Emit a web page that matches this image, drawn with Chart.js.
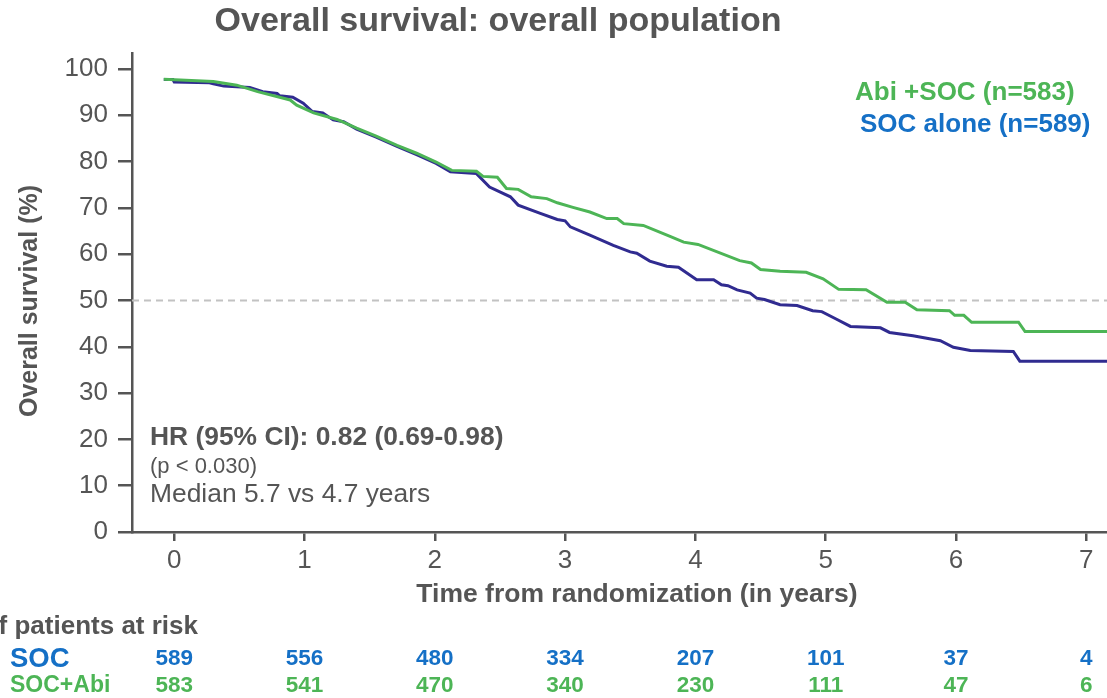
<!DOCTYPE html>
<html lang="en">
  <head>
    <meta charset="UTF-8" />
    <title>Overall survival: overall population</title>
    <script src="https://cdn.jsdelivr.net/npm/chart.js@4"></script>
    <style>
      html,
      body {
        margin: 0;
        padding: 0;
        background: #fff;
        overflow: hidden;
      }
    </style>
  </head>

  <body>
    <canvas id="km" width="1107" height="698"></canvas>

    <script>
      // Kaplan-Meier curves (time in years, survival in %)
      const abiTime = [
        -0.08, 0.3, 0.48, 0.64, 0.89, 0.94, 1.07, 1.25, 1.4, 1.55, 1.71, 1.86,
        2.01, 2.13, 2.32, 2.37, 2.48, 2.55, 2.64, 2.74, 2.86, 2.94, 3.06, 3.19,
        3.32, 3.4, 3.45, 3.6, 3.81, 3.91, 4.02, 4.34, 4.43, 4.5, 4.65, 4.85,
        4.98, 5.1, 5.31, 5.47, 5.61, 5.7, 5.95, 5.99, 6.06, 6.12, 6.48, 6.53,
        7.16,
      ];
      const abiSurv = [
        97.8, 97.3, 96.5, 95.1, 93.3, 92.2, 90.5, 89.1, 87.2, 85.5, 83.5, 81.8,
        79.9, 78.1, 77.9, 76.8, 76.6, 74.2, 74.0, 72.4, 72.0, 71.1, 70.1, 69.1,
        67.7, 67.7, 66.6, 66.2, 63.8, 62.6, 62.1, 58.6, 58.1, 56.7, 56.3, 56.1,
        54.7, 52.4, 52.3, 49.6, 49.6, 48.0, 47.8, 46.8, 46.8, 45.3, 45.3, 43.3,
        43.3,
      ];

      const socTime = [
        -0.08, -0.01, 0.0, 0.27, 0.3, 0.38, 0.58, 0.68, 0.79, 0.81, 0.91, 0.99,
        1.06, 1.14, 1.22, 1.3, 1.4, 1.55, 1.71, 1.86, 2.01, 2.12, 2.32, 2.42,
        2.58, 2.64, 2.81, 2.94, 3.0, 3.04, 3.19, 3.37, 3.5, 3.55, 3.65, 3.78,
        3.87, 4.01, 4.14, 4.2, 4.25, 4.32, 4.42, 4.47, 4.53, 4.65, 4.78, 4.9,
        4.97, 5.08, 5.19, 5.42, 5.49, 5.67, 5.88, 5.98, 6.11, 6.44, 6.49, 7.16,
      ];
      const socSurv = [
        97.7, 97.7, 97.2, 97.0, 96.8, 96.3, 96.0, 95.1, 94.7, 94.2, 93.9, 92.6,
        90.8, 90.5, 89.0, 88.6, 87.0, 85.3, 83.3, 81.5, 79.6, 77.8, 77.4, 74.5,
        72.4, 70.6, 68.8, 67.5, 67.2, 65.9, 64.1, 61.9, 60.5, 60.2, 58.5, 57.4,
        57.2, 54.5, 54.5, 53.4, 53.2, 52.3, 51.6, 50.5, 50.2, 49.1, 48.9, 47.8,
        47.6, 46.0, 44.4, 44.1, 43.1, 42.4, 41.3, 39.9, 39.2, 39.0, 36.9, 36.9,
      ];

      const medianLine = 50;
      const xTicks = [0, 1, 2, 3, 4, 5, 6, 7];
      const yTicks = [0, 10, 20, 30, 40, 50, 60, 70, 80, 90, 100];

      // patients at risk, one value per x tick
      const riskTimes = [0, 1, 2, 3, 4, 5, 6, 7];
      const riskSoc = [589, 556, 480, 334, 207, 101, 37, 4];
      const riskAbi = [583, 541, 470, 340, 230, 111, 47, 6];

      const seriesNames = ["Abi +SOC (n=583)", "SOC alone (n=589)"];
      const riskNames = ["SOC", "SOC+Abi"];

      const FONT = '"Liberation Sans", Arial, sans-serif';
      const GREY = "#555555";
      const GREEN = "#4db556";
      const NAVY = "#302b90";
      const BLUE_TXT = "#1570c6";

      const X_MIN = -0.324;
      const X_MAX = 7.159;

      const toPoints = (t, s) => t.map((v, i) => ({ x: v, y: s[i] }));

      // titles, legend text, stats box and the at-risk table
      const textPlugin = {
        id: "texts",
        afterDraw(chart) {
          const c = chart.ctx;
          const xs = chart.scales.x;
          c.save();
          c.textBaseline = "middle";

          c.fillStyle = GREY;
          c.textAlign = "center";
          c.font = "bold 34px " + FONT;
          c.fillText("Overall survival: overall population", 498, 22);

          c.font = "bold 26.5px " + FONT;
          c.fillText("Time from randomization (in years)", 637, 595);

          // y axis title, rotated
          c.save();
          c.translate(30, 301);
          c.rotate(-Math.PI / 2);
          c.font = "bold 25px " + FONT;
          c.fillText("Overall survival (%)", 0, 0);
          c.restore();

          c.textAlign = "left";
          c.font = "bold 26px " + FONT;
          c.fillStyle = GREEN;
          c.fillText(seriesNames[0], 855, 93);
          c.fillStyle = BLUE_TXT;
          c.fillText(seriesNames[1], 860, 125);

          c.fillStyle = GREY;
          c.font = "bold 26.4px " + FONT;
          c.fillText("HR (95% CI): 0.82 (0.69-0.98)", 150, 438);
          c.font = "22px " + FONT;
          c.fillText("(p < 0.030)", 150, 467);
          c.font = "26.4px " + FONT;
          c.fillText("Median 5.7 vs 4.7 years", 150, 495);

          // at risk table
          c.textAlign = "right";
          c.font = "bold 26px " + FONT;
          c.fillText("No. of patients at risk", 198, 627);

          c.textAlign = "left";
          c.font = "bold 27.5px " + FONT;
          c.fillStyle = BLUE_TXT;
          c.fillText(riskNames[0], 10, 659);
          c.font = "bold 23px " + FONT;
          c.fillStyle = GREEN;
          c.fillText(riskNames[1], 10, 686);

          c.textAlign = "center";
          c.font = "bold 22.5px " + FONT;
          riskTimes.forEach((t, i) => {
            const px = xs.getPixelForValue(t);
            c.fillStyle = BLUE_TXT;
            c.fillText(String(riskSoc[i]), px, 659);
            c.fillStyle = GREEN;
            c.fillText(String(riskAbi[i]), px, 686);
          });
          c.restore();
        },
      };

      const ctx = document.getElementById("km");

      new Chart(ctx, {
        type: "line",
        data: {
          datasets: [
            {
              label: seriesNames[0],
              data: toPoints(abiTime, abiSurv),
              borderColor: GREEN,
              borderWidth: 3,
              pointRadius: 0,
              tension: 0,
            },
            {
              label: seriesNames[1],
              data: toPoints(socTime, socSurv),
              borderColor: NAVY,
              borderWidth: 3,
              pointRadius: 0,
              tension: 0,
            },
            {
              label: "median",
              data: [
                { x: X_MIN, y: medianLine },
                { x: X_MAX, y: medianLine },
              ],
              borderColor: "#c2c2c2",
              borderWidth: 2,
              borderDash: [7, 5],
              pointRadius: 0,
            },
          ],
        },
        options: {
          responsive: false,
          animation: false,
          layout: { padding: { top: 53, left: 0, right: 0, bottom: 0 } },
          plugins: {
            legend: { display: false },
            title: { display: false },
            tooltip: { enabled: false },
          },
          scales: {
            x: {
              type: "linear",
              min: X_MIN,
              max: X_MAX,
              afterBuildTicks: (s) => {
                s.ticks = xTicks.map((v) => ({ value: v }));
              },
              afterFit: (s) => {
                s.height = 166;
              },
              grid: {
                drawOnChartArea: false,
                color: GREY,
                lineWidth: 2.5,
                tickLength: 9,
              },
              border: { color: GREY, width: 2.5 },
              ticks: {
                color: GREY,
                padding: 4,
                maxRotation: 0,
                font: { family: FONT, size: 26 },
              },
            },
            y: {
              min: 0,
              max: 103.45,
              afterBuildTicks: (s) => {
                s.ticks = yTicks.map((v) => ({ value: v }));
              },
              afterFit: (s) => {
                s.width = 132;
              },
              grid: {
                drawOnChartArea: false,
                color: GREY,
                lineWidth: 2.5,
                tickLength: 14,
              },
              border: { color: GREY, width: 2.5 },
              ticks: {
                color: GREY,
                padding: 10,
                font: { family: FONT, size: 26 },
              },
            },
          },
        },
        plugins: [textPlugin],
      });
    </script>
  </body>
</html>
